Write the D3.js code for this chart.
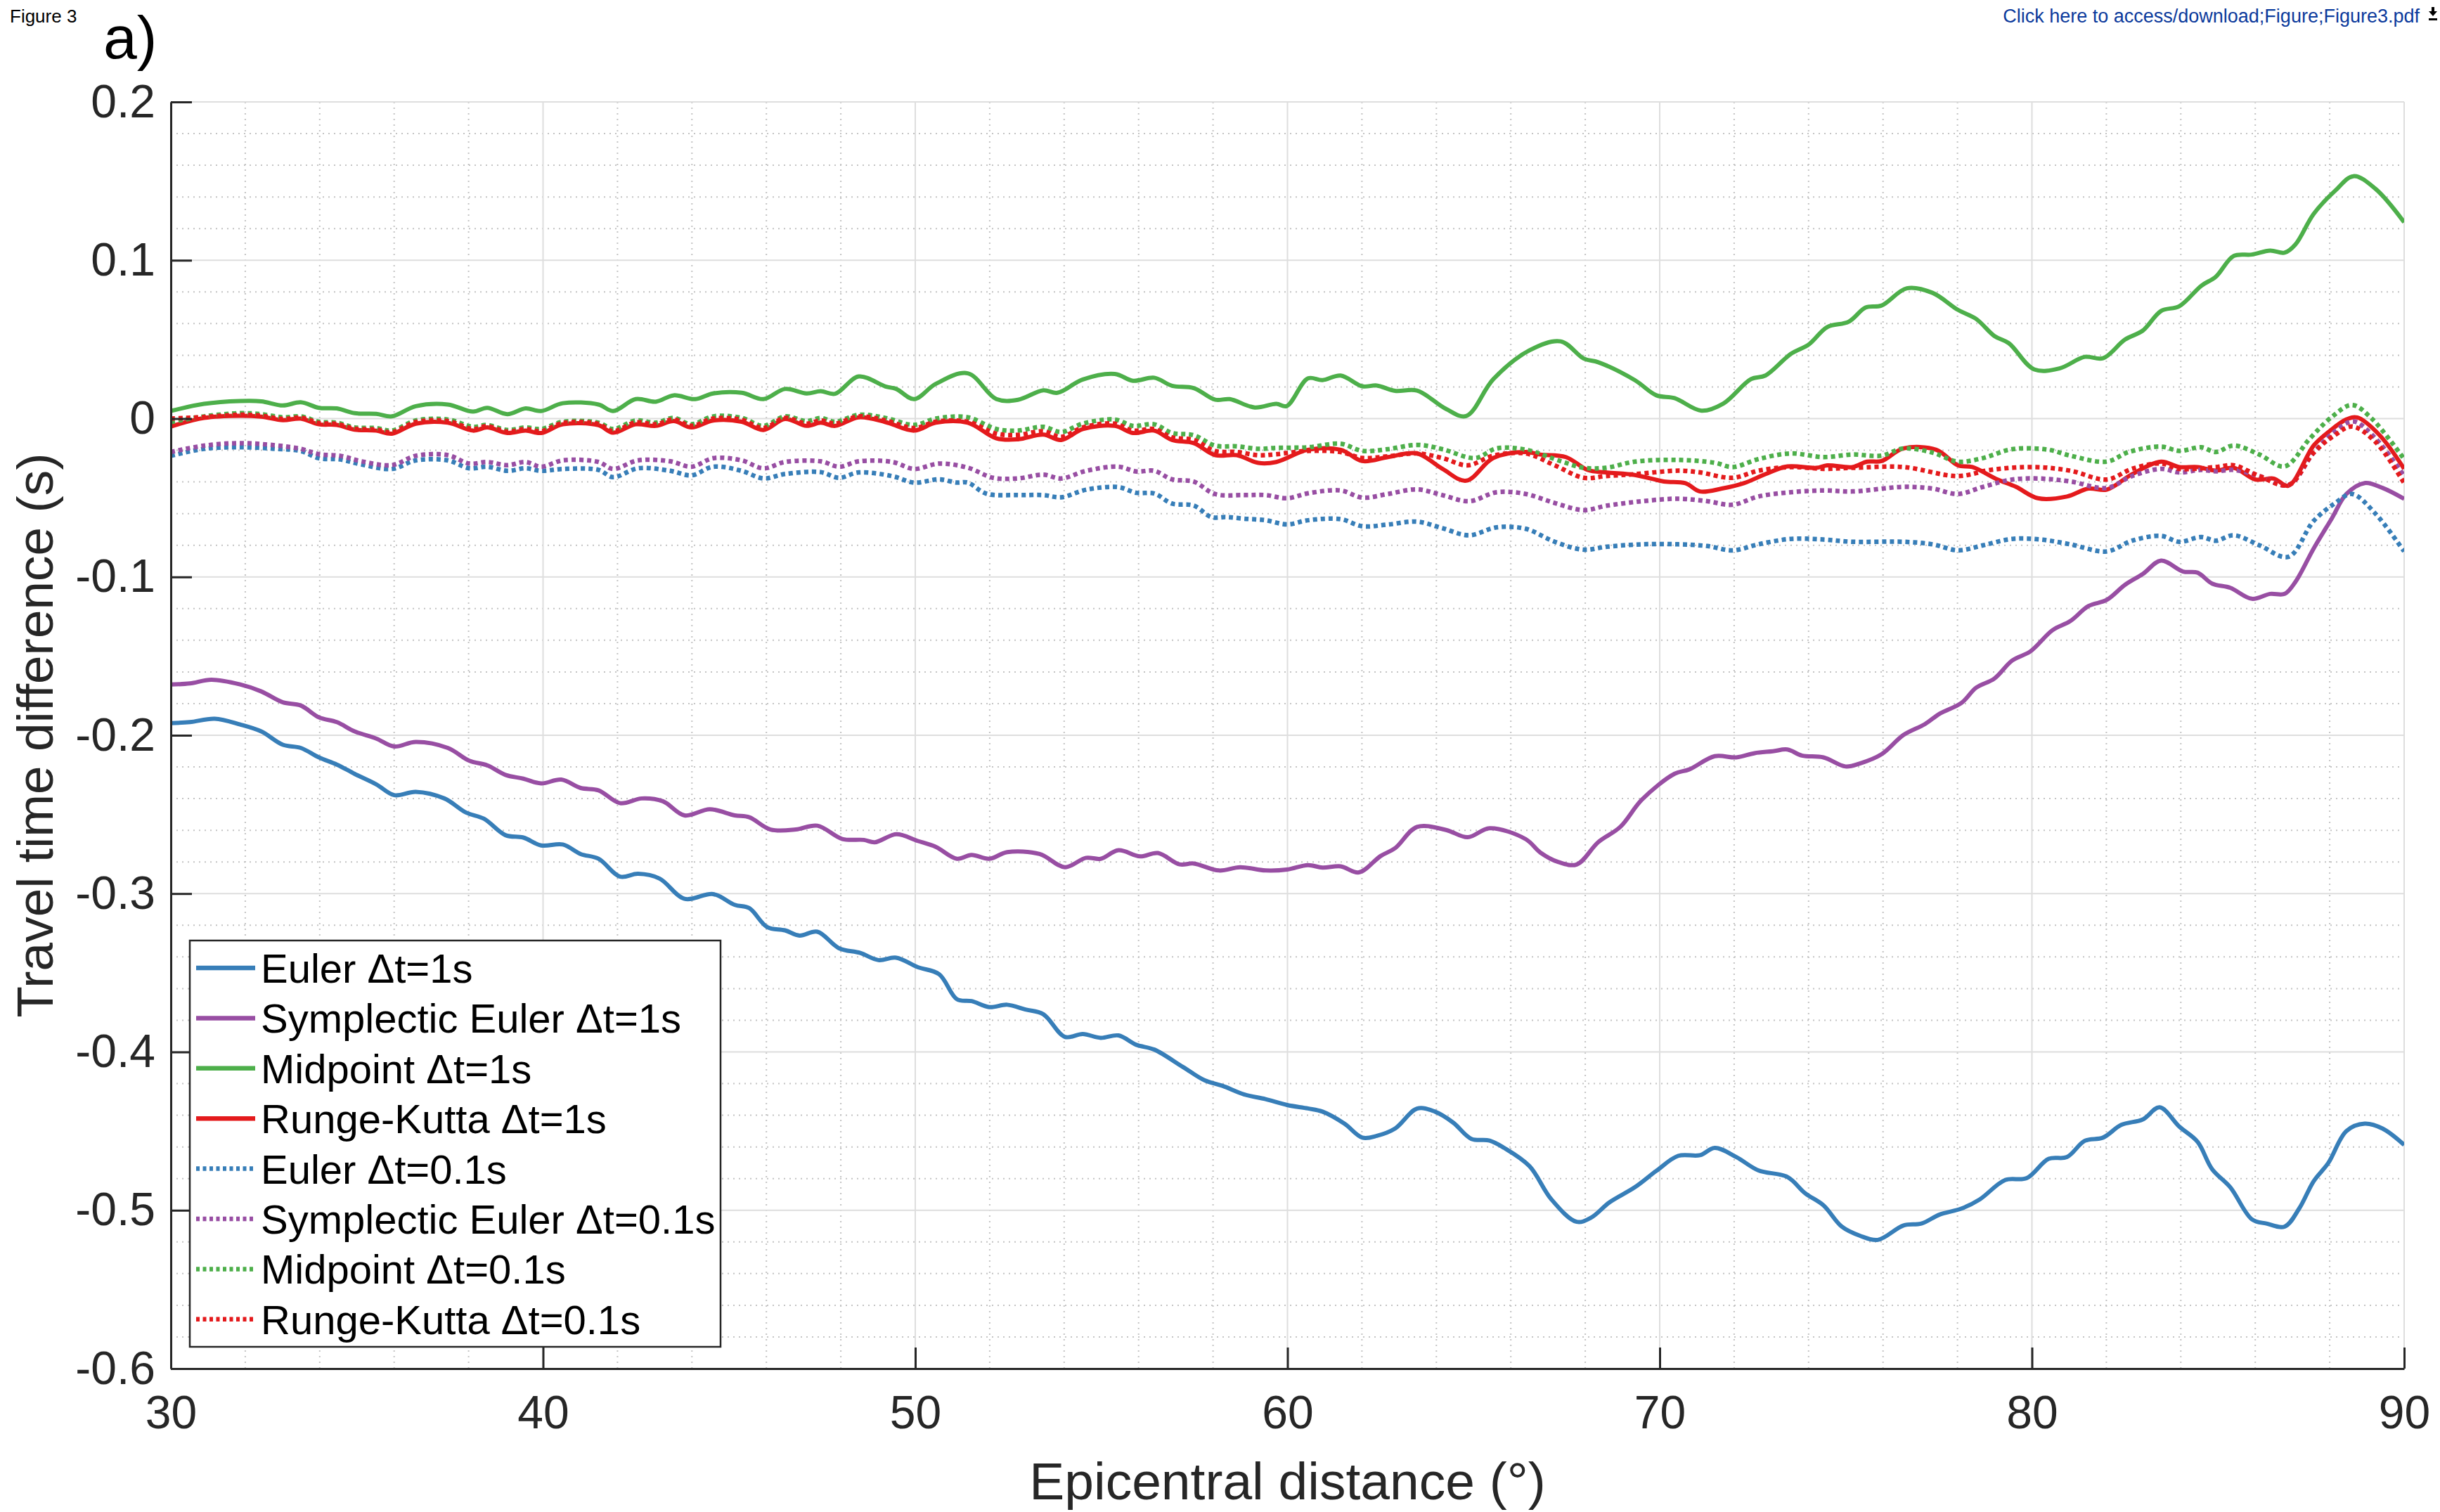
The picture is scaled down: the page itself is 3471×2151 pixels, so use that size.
<!DOCTYPE html>
<html>
<head>
<meta charset="utf-8">
<script src="https://cdn.jsdelivr.net/npm/d3@7"></script>
<style>
  html, body { margin: 0; padding: 0; background: #fff; }
  svg { display: block; font-family: "Liberation Sans", Arial, Helvetica, sans-serif; }
</style>
</head>
<body>
<script>
// travel time difference (s) against epicentral distance (deg)
const eulerDt1 = [[30,-0.1923],[30.51,-0.1917],[31.18,-0.1896],[31.86,-0.1932],[32.43,-0.1976],[33.01,-0.206],[33.49,-0.208],[33.98,-0.214],[34.46,-0.2185],[34.94,-0.2244],[35.52,-0.231],[36,-0.2378],[36.58,-0.2357],[37.35,-0.2399],[37.93,-0.2488],[38.41,-0.2527],[38.99,-0.2631],[39.47,-0.2646],[39.95,-0.2696],[40.53,-0.269],[41.01,-0.275],[41.49,-0.278],[42.07,-0.2893],[42.55,-0.2875],[43.13,-0.2905],[43.8,-0.3033],[44.57,-0.3003],[45.15,-0.3071],[45.54,-0.3092],[46.02,-0.3211],[46.5,-0.3232],[46.89,-0.3265],[47.37,-0.3241],[47.95,-0.3345],[48.52,-0.3375],[49.01,-0.342],[49.49,-0.3405],[50.06,-0.3464],[50.64,-0.3509],[51.12,-0.3667],[51.51,-0.3679],[51.99,-0.3717],[52.47,-0.3702],[52.96,-0.3732],[53.44,-0.3762],[54.02,-0.3905],[54.5,-0.3887],[54.98,-0.3911],[55.46,-0.3896],[55.94,-0.3955],[56.42,-0.3985],[57.19,-0.4095],[57.77,-0.4179],[58.25,-0.4214],[58.83,-0.4268],[59.41,-0.4298],[59.99,-0.4335],[60.55,-0.4357],[60.94,-0.4377],[61.53,-0.4453],[62.01,-0.4541],[62.4,-0.453],[62.89,-0.4484],[63.48,-0.4358],[63.96,-0.4377],[64.45,-0.4446],[64.94,-0.4549],[65.43,-0.456],[65.82,-0.4606],[66.5,-0.4721],[67.09,-0.4931],[67.77,-0.5073],[68.16,-0.5046],[68.65,-0.495],[69.33,-0.4855],[69.91,-0.4751],[70.5,-0.4656],[71.08,-0.4652],[71.48,-0.4606],[72.06,-0.4664],[72.65,-0.4748],[73.43,-0.479],[73.91,-0.4893],[74.4,-0.4969],[74.89,-0.5103],[75.38,-0.5161],[75.86,-0.5187],[76.55,-0.5096],[77.03,-0.5084],[77.52,-0.5027],[78.11,-0.4989],[78.6,-0.4931],[79.28,-0.4809],[79.86,-0.4797],[80.45,-0.4675],[80.94,-0.4664],[81.42,-0.4561],[81.91,-0.4541],[82.4,-0.4461],[82.98,-0.4426],[83.43,-0.435],[83.96,-0.4472],[84.45,-0.4568],[84.84,-0.474],[85.33,-0.4855],[85.91,-0.5057],[86.3,-0.5084],[86.79,-0.5103],[87.18,-0.4989],[87.57,-0.4816],[87.96,-0.4702],[88.45,-0.4499],[88.94,-0.4453],[89.42,-0.4484],[90,-0.4587]];

const sympEulerDt1 = [[30,-0.1679],[30.51,-0.1673],[31.09,-0.1649],[31.86,-0.1679],[32.43,-0.1723],[33.01,-0.1792],[33.49,-0.1812],[33.98,-0.1887],[34.46,-0.1917],[34.94,-0.1976],[35.52,-0.2021],[36,-0.2071],[36.58,-0.2042],[37.44,-0.208],[38.02,-0.2161],[38.5,-0.219],[38.99,-0.225],[39.47,-0.2274],[39.95,-0.2304],[40.49,-0.228],[41.01,-0.2333],[41.49,-0.2348],[42.07,-0.2429],[42.65,-0.2399],[43.22,-0.2417],[43.8,-0.2506],[44.48,-0.2467],[45.15,-0.2506],[45.54,-0.2518],[46.11,-0.2595],[46.79,-0.2595],[47.37,-0.2571],[48.04,-0.2655],[48.62,-0.2661],[48.91,-0.2676],[49.49,-0.2625],[50.06,-0.2667],[50.55,-0.2705],[51.12,-0.278],[51.51,-0.2756],[51.99,-0.278],[52.47,-0.2738],[53.34,-0.275],[54.02,-0.2833],[54.59,-0.2774],[54.98,-0.278],[55.46,-0.2726],[56.04,-0.2765],[56.52,-0.2744],[57.1,-0.2815],[57.48,-0.281],[58.16,-0.2854],[58.73,-0.2833],[59.41,-0.2854],[59.99,-0.2848],[60.55,-0.282],[60.94,-0.2836],[61.43,-0.2828],[61.92,-0.2866],[62.5,-0.2763],[62.89,-0.2713],[63.48,-0.2579],[64.26,-0.2598],[64.84,-0.2644],[65.43,-0.2587],[66.4,-0.2656],[66.79,-0.274],[67.28,-0.2801],[67.77,-0.2816],[68.35,-0.2675],[68.94,-0.2579],[69.52,-0.2407],[70.4,-0.2243],[70.79,-0.2216],[71.48,-0.2132],[72.06,-0.214],[72.55,-0.2113],[73.04,-0.2101],[73.43,-0.209],[73.82,-0.2128],[74.4,-0.214],[74.99,-0.2197],[75.38,-0.2178],[75.96,-0.212],[76.55,-0.1998],[77.13,-0.1929],[77.52,-0.1864],[78.11,-0.1795],[78.5,-0.17],[78.99,-0.1642],[79.47,-0.1528],[79.96,-0.147],[80.55,-0.1337],[81.03,-0.1279],[81.52,-0.1184],[82.01,-0.1145],[82.5,-0.105],[82.98,-0.0981],[83.47,-0.0897],[84.06,-0.0966],[84.45,-0.0973],[84.84,-0.1042],[85.33,-0.1069],[85.91,-0.1138],[86.4,-0.1107],[86.79,-0.1107],[87.08,-0.1031],[87.57,-0.082],[88.06,-0.0629],[88.45,-0.0476],[88.94,-0.0407],[89.42,-0.0438],[90,-0.0507]];

const midpointDt1 = [[30,0.0048],[30.89,0.0093],[31.86,0.0111],[32.43,0.0109],[33.01,0.0083],[33.49,0.0103],[33.98,0.0068],[34.46,0.0064],[34.94,0.0034],[35.52,0.003],[35.94,0.0014],[36.58,0.0078],[37.44,0.0089],[38.12,0.0044],[38.5,0.0068],[39.04,0.0028],[39.53,0.0064],[39.95,0.0048],[40.53,0.0097],[41.49,0.0089],[41.88,0.0048],[42.49,0.0123],[43.03,0.0107],[43.51,0.0147],[44.09,0.0123],[44.57,0.0159],[45.34,0.0163],[45.92,0.0123],[46.5,0.0187],[47.08,0.0159],[47.46,0.0173],[47.85,0.0157],[48.48,0.0266],[49.2,0.0203],[49.49,0.0187],[49.97,0.0123],[50.55,0.0219],[51.41,0.0286],[52.18,0.0123],[52.76,0.0119],[53.44,0.0179],[53.82,0.0163],[54.5,0.0247],[55.36,0.0282],[55.85,0.0239],[56.42,0.0258],[56.9,0.0207],[57.48,0.0193],[58.06,0.0119],[58.45,0.0123],[59.12,0.007],[59.7,0.0093],[59.98,0.0079],[60.55,0.0254],[60.94,0.0243],[61.43,0.0272],[62.01,0.0204],[62.4,0.0209],[62.89,0.0175],[63.48,0.0177],[64.26,0.0061],[64.8,0.0016],[65.53,0.0249],[66.5,0.0431],[67.34,0.0488],[67.96,0.0379],[68.35,0.0356],[69.33,0.0243],[69.91,0.0147],[70.4,0.0129],[71.12,0.005],[71.71,0.0095],[72.45,0.0249],[72.84,0.0272],[73.52,0.0408],[74.01,0.0469],[74.5,0.0578],[75.08,0.0612],[75.53,0.0701],[75.96,0.0714],[76.64,0.0823],[77.33,0.0794],[78.01,0.0687],[78.5,0.063],[78.99,0.0522],[79.38,0.0476],[80.06,0.0311],[80.74,0.0317],[81.42,0.039],[81.91,0.0381],[82.5,0.0499],[82.98,0.0556],[83.47,0.068],[83.96,0.071],[84.55,0.0839],[84.94,0.0896],[85.42,0.1027],[85.91,0.1036],[86.4,0.1061],[86.79,0.1048],[87.08,0.11],[87.57,0.1293],[88.15,0.144],[88.64,0.1531],[89.23,0.1451],[90,0.124]];

const rungeKuttaDt1 = [[30,-0.005],[30.89,0.0004],[31.86,0.0018],[32.43,0.0012],[33.01,-0.001],[33.49,0],[33.98,-0.0036],[34.46,-0.004],[34.94,-0.007],[35.52,-0.0076],[35.94,-0.0095],[36.58,-0.0032],[37.44,-0.0026],[38.12,-0.0076],[38.5,-0.0056],[39.04,-0.0091],[39.53,-0.0076],[39.95,-0.0091],[40.53,-0.0036],[41.49,-0.0042],[41.88,-0.0089],[42.49,-0.0036],[43.03,-0.0046],[43.51,-0.0016],[43.99,-0.0056],[44.57,-0.0012],[45.34,-0.002],[45.92,-0.0072],[46.5,-0.0002],[47.08,-0.0046],[47.46,-0.0026],[47.85,-0.0046],[48.48,0.0008],[49.2,-0.0022],[49.97,-0.0076],[50.55,-0.0026],[51.41,-0.0026],[52.18,-0.0125],[52.76,-0.0131],[53.44,-0.0101],[53.92,-0.0135],[54.5,-0.0066],[55.36,-0.0046],[55.85,-0.0091],[56.42,-0.0076],[56.9,-0.0135],[57.48,-0.0155],[58.06,-0.0231],[58.64,-0.0231],[59.22,-0.028],[59.7,-0.0274],[60.55,-0.0197],[61.43,-0.0197],[62.01,-0.0268],[62.7,-0.0243],[63.48,-0.022],[64.16,-0.0317],[64.8,-0.0392],[65.53,-0.0249],[66.4,-0.0211],[66.79,-0.0227],[67.48,-0.0243],[68.06,-0.0324],[68.55,-0.034],[69.33,-0.0356],[70.11,-0.0397],[70.69,-0.0408],[71.08,-0.046],[71.67,-0.0442],[72.26,-0.0408],[72.84,-0.0351],[73.43,-0.0302],[74.21,-0.0311],[74.5,-0.0295],[75.18,-0.0306],[75.57,-0.0272],[75.96,-0.0268],[76.55,-0.0188],[77.43,-0.0197],[78.01,-0.0295],[78.4,-0.0306],[79.08,-0.0385],[79.57,-0.0431],[80.16,-0.0503],[80.94,-0.0492],[81.52,-0.0442],[82.01,-0.0449],[82.69,-0.0351],[83.47,-0.0272],[83.96,-0.0306],[84.45,-0.0306],[84.94,-0.0329],[85.42,-0.0311],[86.01,-0.0385],[86.5,-0.0379],[86.89,-0.0424],[87.57,-0.017],[87.96,-0.0086],[88.45,-0.0005],[88.74,0.0007],[89.33,-0.0102],[90,-0.0317]];

const eulerDt01 = [[30,-0.0235],[30.89,-0.0191],[31.86,-0.0181],[32.82,-0.0191],[33.49,-0.0205],[33.98,-0.025],[34.55,-0.0258],[35.13,-0.029],[35.94,-0.0318],[36.58,-0.0264],[37.44,-0.0264],[38.02,-0.0314],[38.5,-0.0304],[39.04,-0.033],[39.53,-0.0314],[39.95,-0.033],[40.53,-0.0318],[41.49,-0.0324],[41.88,-0.037],[42.55,-0.0314],[43.42,-0.033],[43.99,-0.0358],[44.57,-0.0304],[45.34,-0.033],[45.92,-0.0378],[46.5,-0.035],[47.46,-0.0338],[47.95,-0.0374],[48.48,-0.034],[49.39,-0.0364],[49.97,-0.0404],[50.64,-0.0384],[51.12,-0.0404],[51.41,-0.0404],[51.9,-0.0473],[52.76,-0.0483],[53.44,-0.0483],[53.92,-0.0497],[54.59,-0.0449],[55.46,-0.0433],[55.94,-0.0469],[56.42,-0.0473],[56.9,-0.0537],[57.48,-0.0549],[57.96,-0.0622],[58.35,-0.0622],[58.83,-0.0632],[59.41,-0.0642],[59.99,-0.0668],[60.55,-0.0642],[61.43,-0.0635],[62.01,-0.068],[62.7,-0.0669],[63.48,-0.0651],[64.16,-0.0692],[64.88,-0.0737],[65.62,-0.0687],[66.4,-0.0696],[67.18,-0.0778],[67.96,-0.0828],[68.55,-0.081],[69.52,-0.0794],[70.5,-0.0794],[71.28,-0.0805],[71.96,-0.0832],[72.65,-0.0794],[73.52,-0.076],[74.4,-0.0764],[75.18,-0.0778],[76.55,-0.0778],[77.33,-0.0794],[78.01,-0.0832],[78.69,-0.08],[79.47,-0.076],[80.25,-0.0764],[81.03,-0.0794],[82.01,-0.0839],[82.69,-0.0771],[83.47,-0.0741],[83.96,-0.0778],[84.55,-0.0748],[84.94,-0.0771],[85.42,-0.0737],[86.11,-0.08],[86.89,-0.0873],[87.57,-0.0646],[88.15,-0.0533],[88.6,-0.0476],[89.23,-0.0601],[90,-0.0839]];

const sympEulerDt01 = [[30,-0.0211],[30.89,-0.0171],[31.86,-0.0155],[32.82,-0.0169],[33.49,-0.0191],[33.98,-0.0225],[34.55,-0.0235],[35.13,-0.027],[35.94,-0.0294],[36.58,-0.0235],[37.44,-0.0231],[38.02,-0.0284],[38.5,-0.0274],[39.04,-0.0294],[39.53,-0.0274],[39.95,-0.0304],[40.53,-0.0264],[41.49,-0.0274],[41.88,-0.0318],[42.55,-0.0264],[43.42,-0.027],[43.99,-0.0304],[44.57,-0.025],[45.34,-0.0264],[45.92,-0.0314],[46.5,-0.0274],[47.46,-0.027],[47.95,-0.0304],[48.48,-0.027],[49.39,-0.0274],[49.97,-0.0318],[50.64,-0.0284],[51.41,-0.031],[52.09,-0.0374],[52.76,-0.0378],[53.44,-0.0354],[53.92,-0.0378],[54.59,-0.033],[55.46,-0.0304],[55.94,-0.0334],[56.42,-0.033],[56.9,-0.0384],[57.48,-0.0398],[58.06,-0.0477],[58.83,-0.0483],[59.41,-0.0483],[59.99,-0.0503],[60.55,-0.0472],[61.43,-0.0454],[62.01,-0.0499],[62.7,-0.0476],[63.48,-0.0447],[64.16,-0.0483],[64.88,-0.0522],[65.62,-0.0465],[66.4,-0.0476],[67.18,-0.0533],[67.96,-0.0578],[68.55,-0.0551],[69.52,-0.0522],[70.5,-0.0506],[71.28,-0.0522],[71.96,-0.0544],[72.65,-0.0492],[73.52,-0.0465],[74.4,-0.0454],[75.18,-0.046],[76.55,-0.0431],[77.33,-0.0442],[78.01,-0.0476],[78.69,-0.0431],[79.47,-0.0385],[80.25,-0.0379],[81.03,-0.0397],[82.01,-0.0438],[82.69,-0.0363],[83.47,-0.0317],[83.96,-0.034],[84.55,-0.0324],[84.94,-0.0333],[85.42,-0.0324],[86.11,-0.0363],[86.89,-0.042],[87.57,-0.0215],[88.15,-0.0079],[88.64,-0.0018],[89.23,-0.0125],[90,-0.0363]];

const midpointDt01 = [[30,-0.0022],[30.89,0.0014],[31.86,0.0034],[32.43,0.0028],[33.01,0.0008],[33.49,0.0014],[33.98,-0.002],[34.46,-0.0026],[34.94,-0.0056],[35.52,-0.006],[35.94,-0.0076],[36.58,-0.0012],[37.44,-0.0006],[38.12,-0.0052],[38.5,-0.004],[39.04,-0.0072],[39.53,-0.0056],[39.95,-0.0066],[40.53,-0.002],[41.49,-0.0026],[41.88,-0.0066],[42.49,-0.0012],[43.03,-0.0026],[43.51,0.0004],[43.99,-0.0036],[44.57,0.0014],[45.34,0.0004],[45.92,-0.0046],[46.5,0.0014],[47.08,-0.0016],[47.46,0.0004],[47.85,-0.002],[48.48,0.0024],[49.2,0.0004],[49.97,-0.004],[50.55,0],[51.41,0.0008],[52.18,-0.0066],[52.76,-0.0076],[53.44,-0.0052],[53.92,-0.0085],[54.5,-0.0032],[55.36,-0.0006],[55.85,-0.0046],[56.42,-0.0036],[56.9,-0.0091],[57.48,-0.0105],[58.06,-0.0171],[58.64,-0.0175],[59.22,-0.0191],[59.7,-0.0185],[60.55,-0.0181],[61.43,-0.0159],[62.01,-0.0204],[62.7,-0.0193],[63.48,-0.0166],[64.16,-0.0193],[65.04,-0.0249],[65.62,-0.0188],[66.4,-0.0197],[67.38,-0.0272],[67.96,-0.0311],[68.55,-0.0311],[69.33,-0.0272],[70.5,-0.0261],[71.48,-0.0279],[71.96,-0.0306],[72.65,-0.0256],[73.52,-0.022],[74.4,-0.0243],[75.18,-0.0227],[75.96,-0.0234],[76.55,-0.0188],[77.33,-0.0215],[78.01,-0.0272],[78.69,-0.0249],[79.47,-0.0193],[80.45,-0.0197],[81.03,-0.0234],[82.01,-0.0272],[82.6,-0.0211],[83.47,-0.0177],[83.96,-0.0204],[84.55,-0.0181],[84.94,-0.0211],[85.42,-0.017],[86.11,-0.0227],[86.79,-0.0302],[87.47,-0.0125],[88.06,0.0011],[88.6,0.0086],[89.13,0],[90,-0.0256]];

const rungeKuttaDt01 = [[30,0],[30.89,0.001],[31.86,0.0024],[32.43,0.0018],[33.01,-0.0002],[33.49,0.0006],[33.98,-0.0028],[34.46,-0.0034],[34.94,-0.0064],[35.52,-0.007],[35.94,-0.0087],[36.58,-0.0022],[37.44,-0.0016],[38.12,-0.0066],[38.5,-0.0048],[39.04,-0.0083],[39.53,-0.0066],[39.95,-0.008],[40.53,-0.0028],[41.49,-0.0034],[41.88,-0.008],[42.49,-0.0024],[43.03,-0.0036],[43.51,-0.0006],[43.99,-0.0046],[44.57,0],[45.34,-0.0008],[45.92,-0.006],[46.5,0.0004],[47.08,-0.0032],[47.46,-0.0012],[47.85,-0.0032],[48.48,0.0014],[49.2,-0.0012],[49.97,-0.006],[50.55,-0.002],[51.41,-0.002],[52.18,-0.0095],[52.76,-0.0103],[53.44,-0.008],[53.92,-0.0115],[54.5,-0.0056],[55.36,-0.0032],[55.85,-0.0076],[56.42,-0.0066],[56.9,-0.0119],[57.48,-0.0135],[58.06,-0.0205],[58.64,-0.0211],[59.22,-0.0231],[59.7,-0.0225],[60.55,-0.0204],[61.43,-0.0211],[62.01,-0.0249],[62.7,-0.0238],[63.48,-0.022],[64.16,-0.0249],[64.84,-0.0295],[65.53,-0.0234],[66.4,-0.022],[67.18,-0.0295],[67.96,-0.0374],[68.55,-0.0363],[69.33,-0.0351],[70.5,-0.0329],[71.08,-0.034],[71.96,-0.0374],[72.65,-0.0329],[73.52,-0.0306],[74.4,-0.0317],[75.18,-0.0311],[76.55,-0.0306],[78.01,-0.0363],[78.89,-0.0324],[80.06,-0.0306],[81.03,-0.0329],[82.01,-0.0385],[82.69,-0.0317],[83.47,-0.0283],[83.96,-0.0317],[84.94,-0.0306],[85.42,-0.0295],[86.11,-0.0363],[86.89,-0.042],[87.57,-0.0215],[88.15,-0.0102],[88.6,-0.005],[89.23,-0.0147],[90,-0.0408]];

const seriesNames = ["Euler \u0394t=1s", "Symplectic Euler \u0394t=1s", "Midpoint \u0394t=1s", "Runge-Kutta \u0394t=1s",
    "Euler \u0394t=0.1s", "Symplectic Euler \u0394t=0.1s", "Midpoint \u0394t=0.1s", "Runge-Kutta \u0394t=0.1s"];
const seriesColors = ["#377eb8", "#984ea3", "#4daf4a", "#e41a1c", "#377eb8", "#984ea3", "#4daf4a", "#e41a1c"];
const seriesDotted = [false, false, false, false, true, true, true, true];

const xTicks = [30, 40, 50, 60, 70, 80, 90];
const yTicks = [0.2, 0.1, 0, -0.1, -0.2, -0.3, -0.4, -0.5, -0.6];
const yTickLabels = ["0.2", "0.1", "0", "-0.1", "-0.2", "-0.3", "-0.4", "-0.5", "-0.6"];
const xMinorTicks = [32, 34, 36, 38, 42, 44, 46, 48, 52, 54, 56, 58, 62, 64, 66, 68, 72, 74, 76, 78, 82, 84, 86, 88];
const yMinorTicks = [0.18, 0.16, 0.14, 0.12, 0.08, 0.06, 0.04, 0.02, -0.02, -0.04, -0.06, -0.08,
    -0.12, -0.14, -0.16, -0.18, -0.22, -0.24, -0.26, -0.28, -0.32, -0.34, -0.36, -0.38,
    -0.42, -0.44, -0.46, -0.48, -0.52, -0.54, -0.56, -0.58];

const allSeries = [eulerDt1, sympEulerDt1, midpointDt1, rungeKuttaDt1, eulerDt01, sympEulerDt01, midpointDt01, rungeKuttaDt01];

const width = 3471;
const height = 2151;
const margin = {top: 145, right: 51, bottom: 204, left: 243};
const innerW = width - margin.left - margin.right;
const innerH = height - margin.top - margin.bottom;

const svg = d3.select("body").append("svg")
    .attr("width", width)
    .attr("height", height);

svg.append("rect").attr("width", width).attr("height", height).attr("fill", "#fff");

// header texts
svg.append("text")
    .attr("x", 14).attr("y", 32)
    .attr("font-size", 26)
    .attr("fill", "#000")
    .text("Figure 3");

svg.append("text")
    .attr("x", 3442).attr("y", 32)
    .attr("text-anchor", "end")
    .attr("font-size", 27)
    .attr("fill", "#0b3a9c")
    .text("Click here to access/download;Figure;Figure3.pdf");

// small download icon
const icon = svg.append("g").attr("transform", "translate(3461, 18)");
icon.append("path").attr("d", "M-2,-8 L2,-8 L2,-2 L6,-2 L0,5 L-6,-2 L-2,-2 Z").attr("fill", "#000");
icon.append("rect").attr("x", -6).attr("y", 8).attr("width", 12).attr("height", 3).attr("fill", "#000");

const g = svg.append("g")
    .attr("transform", `translate(${margin.left}, ${margin.top})`);

const xscale = d3.scaleLinear().domain([30, 90]).range([0, innerW]);
const yscale = d3.scaleLinear().domain([-0.6, 0.2]).range([innerH, 0]);

// minor grid (dotted)
g.append("g").selectAll("line")
    .data(xMinorTicks)
    .join("line")
    .attr("x1", d => xscale(d)).attr("x2", d => xscale(d))
    .attr("y1", 0).attr("y2", innerH)
    .attr("stroke", "#c4c4c4")
    .attr("stroke-width", 2)
    .attr("stroke-dasharray", "2,6");

g.append("g").selectAll("line")
    .data(yMinorTicks)
    .join("line")
    .attr("x1", 0).attr("x2", innerW)
    .attr("y1", d => yscale(d)).attr("y2", d => yscale(d))
    .attr("stroke", "#c4c4c4")
    .attr("stroke-width", 2)
    .attr("stroke-dasharray", "2,6");

// major grid
g.append("g").selectAll("line")
    .data(xTicks)
    .join("line")
    .attr("x1", d => xscale(d)).attr("x2", d => xscale(d))
    .attr("y1", 0).attr("y2", innerH)
    .attr("stroke", "#dedede")
    .attr("stroke-width", 2);

g.append("g").selectAll("line")
    .data(yTicks)
    .join("line")
    .attr("x1", 0).attr("x2", innerW)
    .attr("y1", d => yscale(d)).attr("y2", d => yscale(d))
    .attr("stroke", "#dedede")
    .attr("stroke-width", 2);

// curves
svg.append("defs").append("clipPath").attr("id", "plotclip")
    .append("rect").attr("x", 0).attr("y", -10).attr("width", innerW).attr("height", innerH + 20);

const line = d3.line()
    .x(d => xscale(d[0]))
    .y(d => yscale(d[1]))
    .curve(d3.curveCatmullRom.alpha(0.5));

g.append("g")
    .attr("clip-path", "url(#plotclip)")
    .selectAll("path")
    .data(allSeries)
    .join("path")
    .attr("d", d => line(d))
    .attr("fill", "none")
    .attr("stroke", (d, i) => seriesColors[i])
    .attr("stroke-width", (d, i) => seriesDotted[i] ? 6.5 : 6)
    .attr("stroke-linejoin", "round")
    .attr("stroke-dasharray", (d, i) => seriesDotted[i] ? "6,5" : null);

// axes
const xaxis = d3.axisBottom(xscale)
    .tickValues(xTicks)
    .tickSize(-30)
    .tickSizeOuter(0)
    .tickPadding(38);

const yaxis = d3.axisLeft(yscale)
    .tickValues(yTicks)
    .tickFormat((d, i) => yTickLabels[i])
    .tickSize(-30)
    .tickSizeOuter(0)
    .tickPadding(22);

const xg = g.append("g")
    .attr("transform", `translate(0, ${innerH})`)
    .call(xaxis);

const yg = g.append("g")
    .call(yaxis);

[xg, yg].forEach(ax => {
    ax.select(".domain").attr("stroke", "#262626").attr("stroke-width", 3);
    ax.selectAll(".tick line").attr("stroke", "#262626").attr("stroke-width", 3);
    ax.selectAll(".tick text")
        .attr("font-size", 66)
        .attr("font-family", "Liberation Sans, Arial, Helvetica, sans-serif")
        .attr("fill", "#262626");
});

// axis labels
svg.append("text")
    .attr("x", margin.left + innerW / 2)
    .attr("y", 2133)
    .attr("text-anchor", "middle")
    .attr("font-size", 75)
    .attr("fill", "#262626")
    .text("Epicentral distance (\u00b0)");

svg.append("text")
    .attr("transform", `translate(75, ${margin.top + innerH / 2}) rotate(-90)`)
    .attr("text-anchor", "middle")
    .attr("font-size", 73)
    .attr("fill", "#262626")
    .text("Travel time difference (s)");

svg.append("text")
    .attr("x", 147).attr("y", 83)
    .attr("font-size", 86)
    .attr("fill", "#000")
    .text("a)");

// legend
const legend = svg.append("g").attr("transform", "translate(270, 1338)");
legend.append("rect")
    .attr("width", 755)
    .attr("height", 578)
    .attr("fill", "#fff")
    .attr("stroke", "#262626")
    .attr("stroke-width", 2.5);

const rows = legend.selectAll("g.row")
    .data(seriesNames)
    .join("g")
    .attr("class", "row")
    .attr("transform", (d, i) => `translate(0, ${39 + i * 71.4})`);

rows.append("line")
    .attr("x1", 9).attr("x2", 93)
    .attr("y1", 0).attr("y2", 0)
    .attr("stroke", (d, i) => seriesColors[i])
    .attr("stroke-width", 6.5)
    .attr("stroke-dasharray", (d, i) => seriesDotted[i] ? "5,4.5" : null);

rows.append("text")
    .attr("x", 101)
    .attr("y", 21)
    .attr("font-size", 58)
    .attr("fill", "#000")
    .text(d => d);
</script>
</body>
</html>
